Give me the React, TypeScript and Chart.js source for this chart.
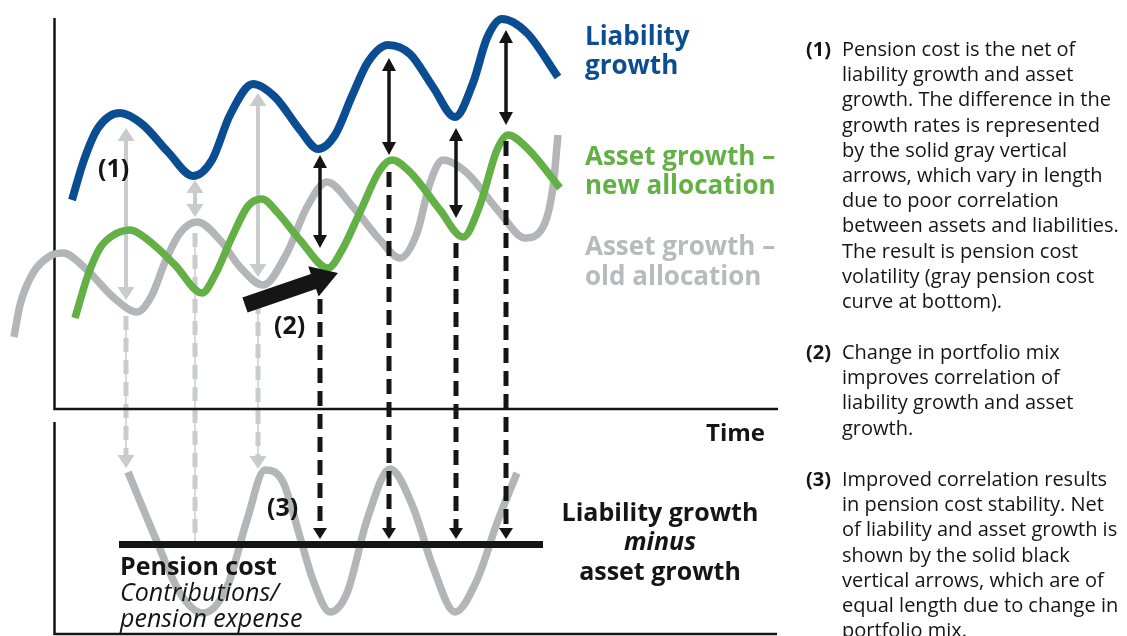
import { useEffect, useRef } from "react";
import { Chart, registerables } from "chart.js";

Chart.register(...registerables);

// ---- Curves (time, level); y grows downward (reversed scale) ----
const liabilityGrowth: number[][] = [
  [72, 200], [84, 160], [98, 128], [120, 113], [142, 124], [168, 152], [193, 176],
  [212, 160], [230, 115], [253, 84], [275, 97], [300, 130], [318, 149], [335, 135],
  [352, 96], [368, 62], [388, 45], [410, 54], [433, 87], [455, 117], [473, 83],
  [487, 38], [502, 19], [527, 33], [558, 77],
];
const assetNewAllocation: number[][] = [
  [75, 318], [88, 275], [100, 248], [112, 236], [130, 230], [148, 240], [175, 265],
  [202, 293], [215, 275], [232, 237], [248, 206], [262, 199], [277, 212], [300, 240],
  [328, 268], [342, 250], [360, 212], [380, 170], [392, 160], [410, 172], [440, 210],
  [463, 237], [480, 205], [497, 150], [508, 135], [527, 148], [560, 188],
];
const assetOldAllocation: number[][] = [
  [14, 337], [20, 305], [33, 273], [50, 256], [63, 253], [87, 270], [113, 297],
  [137, 312], [152, 295], [165, 262], [180, 233], [197, 222], [220, 240], [240, 267],
  [263, 285], [287, 253], [307, 207], [327, 182], [353, 207], [380, 240], [400, 258],
  [417, 233], [430, 183], [443, 160], [467, 173], [500, 213], [525, 238], [543, 227],
  [553, 187], [558, 135],
];
const pensionCostOld: number[][] = [
  [128, 472], [155, 537], [180, 593], [203, 613], [227, 587], [247, 520], [265, 470],
  [283, 482], [300, 537], [313, 580], [330, 612], [347, 593], [367, 520], [390, 469],
  [413, 507], [433, 567], [455, 612], [477, 580], [497, 523], [517, 473],
];
const pensionCostNew: number[][] = [[119, 544.5], [543, 544.5]];

// ---- Frames ----
const topFrame: number[][] = [[54.5, 18], [54.5, 409], [778, 409]];
const bottomFrame: number[][] = [[54.5, 422], [54.5, 634], [777, 634]];

// ---- Arrows ----
const grayArrowX = [126, 195, 258];
const grayArrowTop = [128, 180, 93];
const grayArrowBottom = [300, 217, 277];
const grayDropFrom = [316, 233, 300];
const grayDropTo = [468, 545, 469];
const grayDropHead = [true, false, true];

const blackArrowX = [320, 389, 456, 506];
const blackArrowTop = [155, 58, 128, 30];
const blackArrowBottom = [248, 155, 218, 125];
const blackDropFrom = [276, 172, 243, 141];
const blackDropTo = 539;

const mixShiftFrom = [245, 305];
const mixShiftTo = [338, 273];

// ---- Texts ----
const rightNotes1 = [
  "Pension cost is the net of",
  "liability growth and asset",
  "growth. The difference in the",
  "growth rates is represented",
  "by the solid gray vertical",
  "arrows, which vary in length",
  "due to poor correlation",
  "between assets and liabilities.",
  "The result is pension cost",
  "volatility (gray pension cost",
  "curve at bottom).",
];
const rightNotes2 = [
  "Change in portfolio mix",
  "improves correlation of",
  "liability growth and asset",
  "growth.",
];
const rightNotes3 = [
  "Improved correlation results",
  "in pension cost stability. Net",
  "of liability and asset growth is",
  "shown by the solid black",
  "vertical arrows, which are of",
  "equal length due to change in",
  "portfolio mix.",
];

const BLUE = "rgb(11,77,146)";
const GREEN = "rgb(99,176,70)";
const GRAY = "rgb(180,181,184)";
const LIGHT = "rgb(202,203,205)";
const INK = "#151515";
const FONT = '"Open Sans", "DejaVu Sans", sans-serif';

const pts = (a: number[][]) => a.map(([x, y]) => ({ x, y }));

function head(ctx: CanvasRenderingContext2D, x: number, tip: number, dir: number, w: number, h: number, color: string) {
  ctx.beginPath();
  ctx.moveTo(x, tip);
  ctx.lineTo(x - w / 2, tip - dir * h);
  ctx.lineTo(x + w / 2, tip - dir * h);
  ctx.closePath();
  ctx.fillStyle = color;
  ctx.fill();
}

const annotations = {
  id: "annotations",
  beforeDatasetsDraw(chart: any) {
    const ctx: CanvasRenderingContext2D = chart.ctx;
    const sx = (v: number) => chart.scales.x.getPixelForValue(v);
    const sy = (v: number) => chart.scales.y.getPixelForValue(v);
    ctx.save();
    grayDropFrom.forEach((f, i) => {
      const x = sx(grayArrowX[i]);
      const t = sy(grayDropTo[i]) - (grayDropHead[i] ? 12 : 0);
      ctx.strokeStyle = LIGHT;
      ctx.setLineDash([]);
      ctx.lineWidth = 1.5;
      ctx.beginPath(); ctx.moveTo(x, sy(f)); ctx.lineTo(x, t); ctx.stroke();
      ctx.lineWidth = 5;
      ctx.setLineDash([14, 8]);
      ctx.beginPath(); ctx.moveTo(x, sy(f)); ctx.lineTo(x, t); ctx.stroke();
      if (grayDropHead[i]) head(ctx, x, sy(grayDropTo[i]), 1, 17, 13, LIGHT);
    });
    ctx.setLineDash([]);
    grayArrowX.forEach((gx, i) => {
      const x = sx(gx);
      const a = sy(grayArrowTop[i]);
      const b = sy(grayArrowBottom[i]);
      ctx.strokeStyle = LIGHT;
      ctx.lineWidth = 4;
      ctx.beginPath(); ctx.moveTo(x, a + 10); ctx.lineTo(x, b - 10); ctx.stroke();
      head(ctx, x, a, -1, 17, 13, LIGHT);
      head(ctx, x, b, 1, 17, 13, LIGHT);
    });
    ctx.restore();
  },
  afterDatasetsDraw(chart: any) {
    const ctx: CanvasRenderingContext2D = chart.ctx;
    const sx = (v: number) => chart.scales.x.getPixelForValue(v);
    const sy = (v: number) => chart.scales.y.getPixelForValue(v);
    ctx.save();
    blackArrowX.forEach((bx, i) => {
      const x = sx(bx);
      ctx.strokeStyle = INK;
      ctx.lineWidth = 5;
      ctx.setLineDash([15, 8]);
      ctx.beginPath(); ctx.moveTo(x, sy(blackDropFrom[i])); ctx.lineTo(x, sy(blackDropTo) - 10); ctx.stroke();
      ctx.setLineDash([]);
      head(ctx, x, sy(blackDropTo), 1, 14, 11, INK);
    });
    blackArrowX.forEach((bx, i) => {
      const x = sx(bx);
      const a = sy(blackArrowTop[i]);
      const b = sy(blackArrowBottom[i]);
      ctx.strokeStyle = INK;
      ctx.lineWidth = 3.5;
      ctx.beginPath(); ctx.moveTo(x, a + 10); ctx.lineTo(x, b - 10); ctx.stroke();
      head(ctx, x, a, -1, 14, 13, INK);
      head(ctx, x, b, 1, 14, 13, INK);
    });
    const x0 = sx(mixShiftFrom[0]), y0 = sy(mixShiftFrom[1]);
    const x1 = sx(mixShiftTo[0]), y1 = sy(mixShiftTo[1]);
    const dx = x1 - x0, dy = y1 - y0;
    const L = Math.hypot(dx, dy);
    const ux = dx / L, uy = dy / L, nx = -uy, ny = ux;
    const hl = 26, sw = 8, hw = 16;
    const bxp = x1 - ux * hl, byp = y1 - uy * hl;
    ctx.fillStyle = INK;
    ctx.beginPath();
    ctx.moveTo(x0 + nx * sw, y0 + ny * sw);
    ctx.lineTo(bxp + nx * sw, byp + ny * sw);
    ctx.lineTo(bxp + nx * hw, byp + ny * hw);
    ctx.lineTo(x1, y1);
    ctx.lineTo(bxp - nx * hw, byp - ny * hw);
    ctx.lineTo(bxp - nx * sw, byp - ny * sw);
    ctx.lineTo(x0 - nx * sw, y0 - ny * sw);
    ctx.closePath();
    ctx.fill();
    ctx.restore();
  },
  afterDraw(chart: any) {
    const ctx: CanvasRenderingContext2D = chart.ctx;
    ctx.save();
    ctx.textBaseline = "alphabetic";
    const t = (s: string, x: number, y: number, font: string, color: string, align: CanvasTextAlign = "left") => {
      ctx.font = font; ctx.fillStyle = color; ctx.textAlign = align; ctx.fillText(s, x, y);
    };
    const big = `bold 26px ${FONT}`;
    t("Liability", 585, 45, big, BLUE);
    t("growth", 585, 74, big, BLUE);
    t("Asset growth –", 585, 165, big, GREEN);
    t("new allocation", 585, 194, big, GREEN);
    t("Asset growth –", 585, 255, big, "rgb(185,186,189)");
    t("old allocation", 585, 285, big, "rgb(185,186,189)");
    const mid = `bold 25px ${FONT}`;
    t("Time", 706, 441, `bold 24px ${FONT}`, INK);
    t("Liability growth", 660, 521, mid, INK, "center");
    t("minus", 660, 550, `italic bold 25px ${FONT}`, INK, "center");
    t("asset growth", 660, 580, mid, INK, "center");
    t("(1)", 98, 177, mid, INK);
    t("(2)", 274, 334, mid, INK);
    t("(3)", 267, 516, mid, INK);
    t("Pension cost", 120, 575, mid, INK);
    t("Contributions/", 120, 601, `italic 25px ${FONT}`, INK);
    t("pension expense", 120, 627, `italic 25px ${FONT}`, INK);
    const note = `20px ${FONT}`;
    const noteB = `bold 20px ${FONT}`;
    const block = (label: string, lines: string[], y0: number) => {
      t(label, 806, y0, noteB, INK);
      lines.forEach((s, i) => t(s, 842, y0 + i * 25.2, note, INK));
    };
    block("(1)", rightNotes1, 56);
    block("(2)", rightNotes2, 359);
    block("(3)", rightNotes3, 486);
    ctx.restore();
  },
};

export default function App() {
  const ref = useRef<HTMLCanvasElement | null>(null);
  useEffect(() => {
    document.body.style.margin = "0";
    const curve = (data: number[][], color: string, width: number, order: number) => ({
      data: pts(data), borderColor: color, borderWidth: width, pointRadius: 0,
      cubicInterpolationMode: "monotone" as const, borderCapStyle: "butt" as const, fill: false, order,
    });
    const chart = new Chart(ref.current as HTMLCanvasElement, {
      type: "line",
      data: {
        datasets: [
          { data: pts(pensionCostNew), borderColor: INK, borderWidth: 7, pointRadius: 0, borderCapStyle: "butt", order: 1 } as any,
          curve(liabilityGrowth, BLUE, 8, 2),
          curve(assetNewAllocation, GREEN, 7.5, 3),
          curve(assetOldAllocation, GRAY, 7.5, 4),
          curve(pensionCostOld, GRAY, 7.5, 5),
          { data: pts(topFrame), borderColor: INK, borderWidth: 2.5, pointRadius: 0, tension: 0, order: 6 } as any,
          { data: pts(bottomFrame), borderColor: INK, borderWidth: 2.5, pointRadius: 0, tension: 0, order: 7 } as any,
        ],
      },
      options: {
        responsive: false,
        devicePixelRatio: 1,
        animation: false,
        events: [],
        layout: { padding: 0 },
        scales: {
          x: { type: "linear", min: 0, max: 1127, display: false },
          y: { type: "linear", min: 0, max: 636, reverse: true, display: false },
        },
        plugins: { legend: { display: false }, tooltip: { enabled: false } },
      },
      plugins: [annotations],
    });
    return () => chart.destroy();
  }, []);
  return (
    <div style={{ position: "fixed", left: 0, top: 0, width: 1127, height: 636, background: "#fff" }}>
      <canvas ref={ref} width={1127} height={636} style={{ display: "block" }} />
    </div>
  );
}
